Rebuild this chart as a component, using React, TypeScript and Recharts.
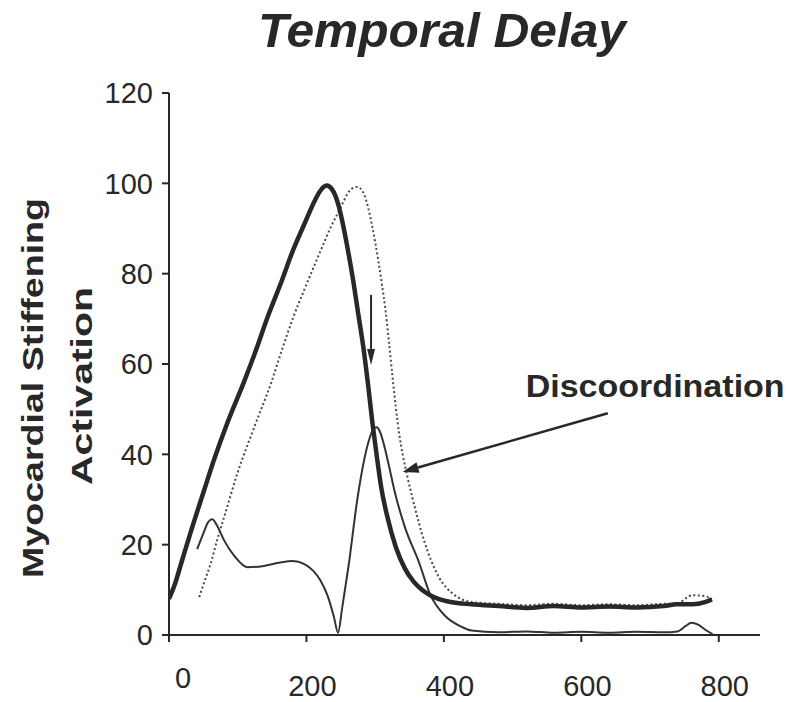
import React from 'react';
import { LineChart, Line, XAxis, YAxis, ReferenceLine, ReferenceDot } from 'recharts';

const FONT = '"Liberation Sans", Arial, Helvetica, sans-serif';
const INK = '#282828';

// thick solid curve: myocardial stiffening activation
const stiffX = [0, 8, 18, 31, 51, 66, 85, 109, 124, 145, 163, 180, 197, 210, 220, 229, 238, 246, 253, 260, 268, 275, 283, 290, 296, 302, 309, 318, 330, 343, 356, 368, 380, 392, 410, 440, 480, 520, 560, 600, 640, 680, 720, 739, 762, 780, 790];
const stiffY = [8, 11, 16, 22.5, 32, 39, 47, 56, 62, 71, 78, 85, 91, 95.5, 98.3, 99.5, 98.5, 95.5, 91, 85.5, 78.5, 71.5, 63.5, 55, 47, 40, 32.5, 26, 19.5, 14.8, 11.8, 10, 8.8, 8, 7.3, 6.8, 6.4, 6.0, 6.4, 6.1, 6.3, 6.1, 6.4, 6.8, 6.8, 7.3, 7.9];

// dotted curve: delayed activation
const delayedX = [44, 52, 61, 70, 80, 100, 124, 149, 163, 180, 197, 212, 226, 236, 246, 254, 261, 268, 273, 279, 284, 290, 295, 300, 305, 310, 315, 320, 325, 330, 335, 340, 347, 354, 372, 392, 416, 440, 480, 520, 560, 600, 640, 680, 720, 739, 762, 780, 790];
const delayedY = [8.4, 12, 16, 21, 26, 36, 46, 56, 62.5, 70, 76.5, 82, 87, 90.5, 93.5, 96, 98, 99, 99.2, 98.8, 97.5, 94.5, 91, 87, 82.5, 77.5, 72, 65, 57.5, 50.5, 44.5, 40, 35, 30.5, 20.5, 13, 8.8, 7.3, 6.9, 6.6, 6.9, 6.6, 6.8, 6.6, 6.9, 7.0, 8.8, 8.6, 7.9];

// thin solid curve: discoordination
const discoX = [41, 50, 57, 63, 70, 80, 95, 114, 138, 160, 180, 197, 210, 220, 231, 240, 246, 252, 261, 275, 290, 297, 302, 307, 313, 320, 328, 343, 364, 380, 402, 426, 440, 480, 520, 560, 600, 640, 680, 720, 740, 752, 760, 770, 782, 791];
const discoY = [19, 22.5, 25, 25.6, 24.2, 21, 17.5, 15, 15.3, 16, 16.4, 15.7, 14.2, 12.2, 8.6, 4, 0.5, 6, 15, 31, 42.6, 45.5, 46, 45, 42, 37.5, 32, 24, 16, 9, 4.2, 1.8, 1, 0.6, 0.8, 0.5, 0.7, 0.5, 0.7, 0.6, 0.8, 2.0, 2.7, 2.3, 1.0, 0.2];

const xTicks = [0, 200, 400, 600, 800];
const yTicks = [0, 20, 40, 60, 80, 100, 120];

const toPoints = (xs: number[], ys: number[]) => xs.map((t, i) => ({ t, v: ys[i] }));

const Arrow = (props: any) => {
  const { x1, y1, x2, y2, head = 15, half = 5, width = 2.5 } = props;
  const ang = Math.atan2(y2 - y1, x2 - x1);
  const bx = x2 - head * Math.cos(ang);
  const by = y2 - head * Math.sin(ang);
  const px = -Math.sin(ang) * half;
  const py = Math.cos(ang) * half;
  return (
    <g>
      <line x1={x1} y1={y1} x2={bx} y2={by} stroke={INK} strokeWidth={width} />
      <polygon points={`${x2},${y2} ${bx + px},${by + py} ${bx - px},${by - py}`} fill={INK} />
    </g>
  );
};

const XTick = ({ x, y, payload }: any) => {
  const zero = payload.value === 0;
  return (
    <text x={x + (zero ? 14 : 6)} y={y + (zero ? -8 : 0)} dy="0.71em" textAnchor="middle"
      fontSize={29} fontFamily={FONT} fill={INK}>
      {payload.value}
    </text>
  );
};

const YTick = ({ x, y, payload }: any) => (
  <text x={x} y={y} dy="0.355em" textAnchor="end" fontSize={29} fontFamily={FONT} fill={INK}>
    {payload.value}
  </text>
);

const YLabel = () => (
  <g fontFamily={FONT} fontWeight="bold" fontSize={30} fill={INK}>
    <text x={43} y={388} transform="rotate(-90 43 388)" textAnchor="middle"
      textLength={380} lengthAdjust="spacingAndGlyphs">Myocardial Stiffening</text>
    <text x={92} y={386} transform="rotate(-90 92 386)" textAnchor="middle"
      textLength={198} lengthAdjust="spacingAndGlyphs">Activation</text>
  </g>
);

export default function App() {
  return (
    <div style={{ position: 'absolute', left: 0, top: 0, width: 790, height: 702, background: '#fff' }}>
      <svg width={790} height={90} style={{ position: 'absolute', left: 0, top: 0 }}>
        <text x={442} y={47} textAnchor="middle" fontFamily={FONT} fontWeight="bold" fontStyle="italic"
          fontSize={49} fill={INK} textLength={368} lengthAdjust="spacingAndGlyphs">Temporal Delay</text>
      </svg>
      <LineChart width={790} height={702} margin={{ top: 93, right: 30, left: 0, bottom: 0 }}>
        <XAxis type="number" dataKey="t" domain={[0, 860]} ticks={xTicks} allowDataOverflow
          axisLine={{ stroke: INK, strokeWidth: 2 }} tickLine={{ stroke: INK, strokeWidth: 2 }}
          tickSize={7} tickMargin={33} height={67} tick={<XTick />} />
        <YAxis type="number" dataKey="v" domain={[0, 120]} ticks={yTicks} width={169}
          axisLine={{ stroke: INK, strokeWidth: 2 }} tickLine={{ stroke: INK, strokeWidth: 2 }}
          tickSize={7} tickMargin={9} tick={<YTick />} label={{ content: <YLabel /> }} />
        <Line data={toPoints(delayedX, delayedY)} dataKey="v" type="monotone" stroke="#4a4a4a"
          strokeWidth={2} strokeDasharray="2 2.5" dot={false} isAnimationActive={false} />
        <Line data={toPoints(discoX, discoY)} dataKey="v" type="monotone" stroke="#333"
          strokeWidth={2} dot={false} isAnimationActive={false} />
        <Line data={toPoints(stiffX, stiffY)} dataKey="v" type="monotone" stroke={INK}
          strokeWidth={4.5} dot={false} isAnimationActive={false} />
        <ReferenceLine segment={[{ x: 294, y: 75.3 }, { x: 294, y: 59.8 }]}
          shape={(p: any) => <Arrow {...p} head={16} half={4} width={2} />} />
        <ReferenceLine segment={[{ x: 638.5, y: 49.1 }, { x: 340, y: 36.1 }]}
          shape={(p: any) => <Arrow {...p} head={16} half={5.5} width={2.5} />} />
        <ReferenceDot x={519} y={52.7} shape={(p: any) => (
          <text x={p.cx} y={p.cy} fontFamily={FONT} fontWeight="bold" fontSize={32} fill={INK}
            textLength={259} lengthAdjust="spacingAndGlyphs">Discoordination</text>
        )} />
      </LineChart>
    </div>
  );
}
